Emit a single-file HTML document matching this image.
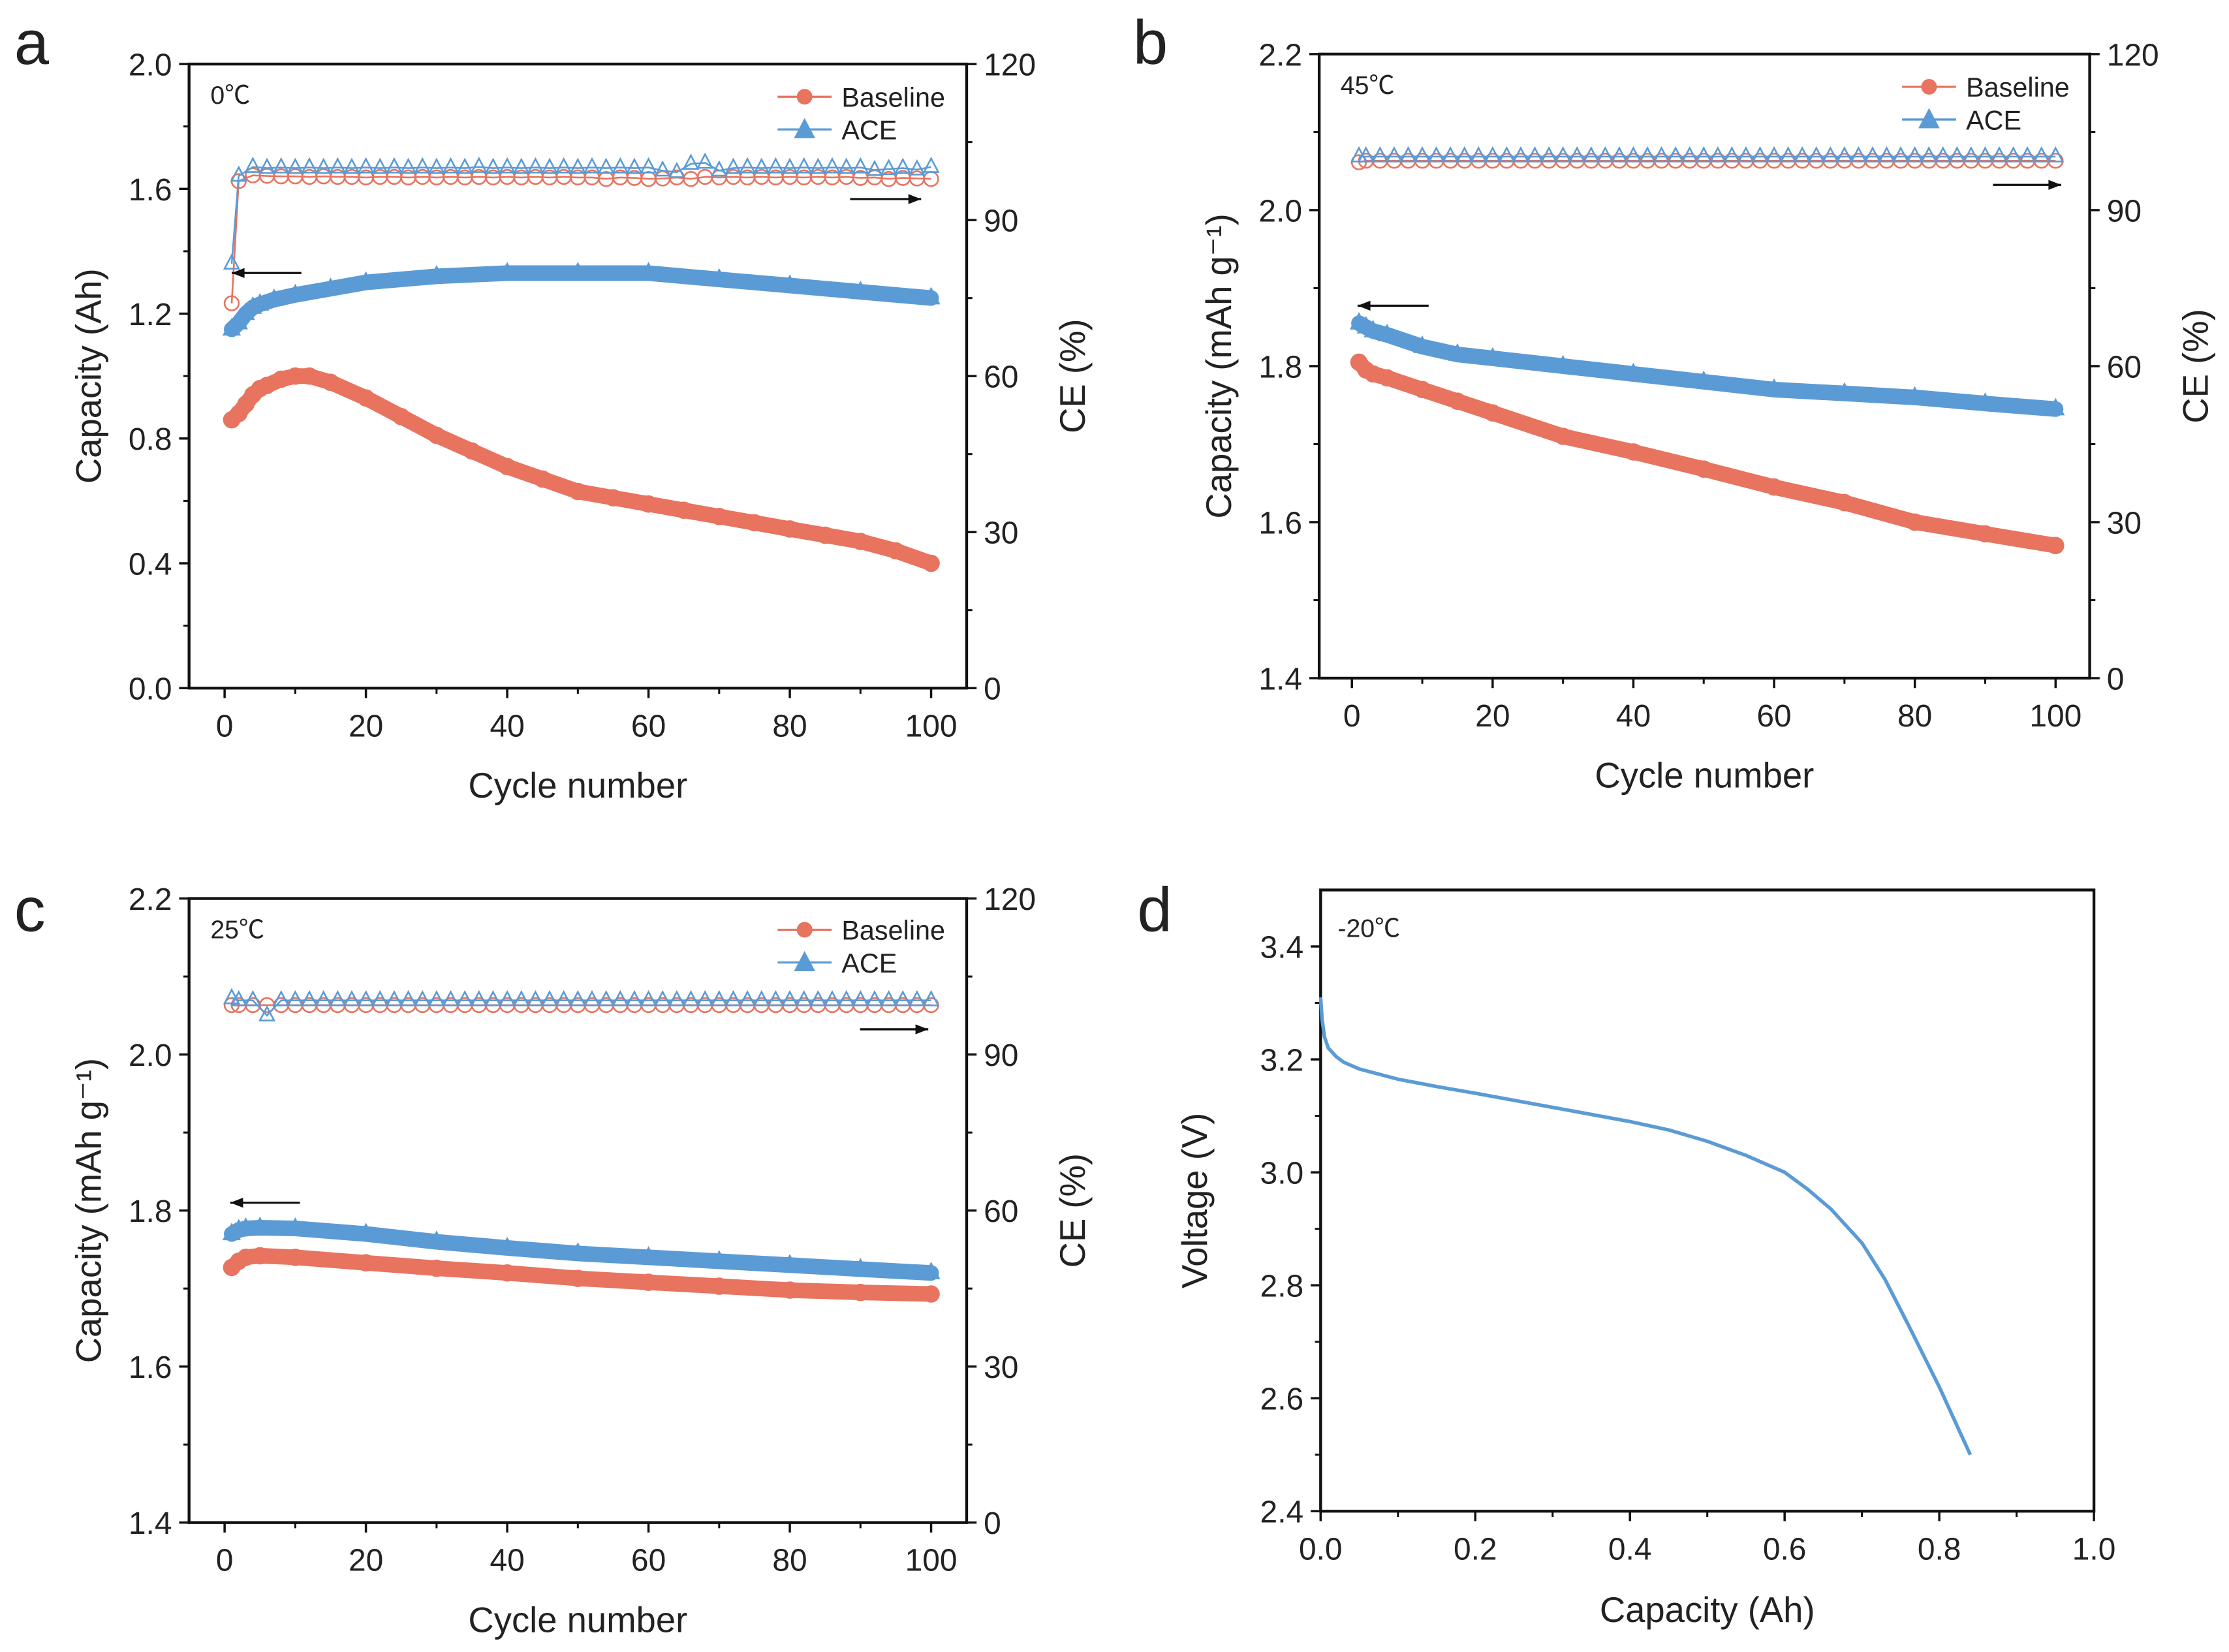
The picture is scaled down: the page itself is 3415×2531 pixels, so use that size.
<!DOCTYPE html>
<html><head><meta charset="utf-8"><style>
html,body{margin:0;padding:0;background:#fff}
svg{display:block}
text{font-family:"Liberation Sans","Noto Sans CJK SC",sans-serif;fill:#222}
</style></head><body>
<svg id="fig" width="3415" height="2531" viewBox="0 0 1568 1162" xmlns="http://www.w3.org/2000/svg"></svg>
<script>
// shared CE cycle indices (1, 2, then every 2 cycles)
const ceCycles=[1,2,4,6,8,10,12,14,16,18,20,22,24,26,28,30,32,34,36,38,40,42,44,46,48,50,52,54,56,58,60,62,64,66,68,70,72,74,76,78,80,82,84,86,88,90,92,94,96,98,100];
// ---- Panel a (0 °C) ----
const aCycB=[1,2,3,4,5,6,8,10,12,15,20,25,30,35,40,45,50,55,60,65,70,75,80,85,90,95,100];
const aCapB=[0.86,0.88,0.91,0.94,0.96,0.97,0.99,1.0,1.0,0.98,0.93,0.87,0.81,0.76,0.71,0.67,0.63,0.61,0.59,0.57,0.55,0.53,0.51,0.49,0.47,0.44,0.40];
const aCycA=[1,2,3,4,5,7,10,15,20,30,40,50,60,70,80,90,100];
const aCapA=[1.15,1.17,1.20,1.22,1.23,1.245,1.26,1.28,1.30,1.32,1.33,1.33,1.33,1.31,1.29,1.27,1.25];
const aCEB=[74,97.5,98.6,98.5,98.4,98.4,98.3,98.4,98.3,98.3,98.2,98.3,98.3,98.2,98.3,98.2,98.3,98.2,98.3,98.2,98.3,98.2,98.3,98.2,98.3,98.2,98.2,97.9,98.2,98.1,97.9,98.0,98.2,97.9,98.3,98.2,98.3,98.2,98.3,98.2,98.3,98.2,98.3,98.2,98.3,98.1,98.2,97.9,98.1,98.0,97.9];
const aCEA=[81.6,98.5,100.2,100,100.1,100,100.1,100,100.1,100,100.1,100,100.1,100,100.1,100,100.1,100,100.2,100,100.1,100,100.1,100,100.1,100,100.1,100,100.1,100,100.1,99.5,99.2,100.8,101,99.5,100,100.1,100,100.1,100,100.1,100,100.1,100,100.1,99.6,99.8,100,99.7,100.2];
// ---- Panel b (45 °C) ----
const bCycB=[1,2,3,5,10,15,20,30,40,50,60,70,80,90,100];
const bCapB=[1.805,1.795,1.79,1.785,1.77,1.755,1.74,1.71,1.69,1.668,1.645,1.625,1.60,1.585,1.57];
const bCycA=[1,2,3,5,10,15,20,30,40,50,60,70,80,90,100];
const bCapA=[1.855,1.85,1.845,1.84,1.825,1.815,1.81,1.80,1.79,1.78,1.77,1.765,1.76,1.752,1.745];
const bCEB=[99.2,99.5,99.5,99.5,99.5,99.5,99.5,99.5,99.5,99.5,99.5,99.5,99.5,99.5,99.5,99.5,99.5,99.5,99.5,99.5,99.5,99.5,99.5,99.5,99.5,99.5,99.5,99.5,99.5,99.5,99.5,99.5,99.5,99.5,99.5,99.5,99.5,99.5,99.5,99.5,99.5,99.5,99.5,99.5,99.5,99.5,99.5,99.5,99.5,99.5,99.5];
const bCEA=[100.3,100.3,100.3,100.3,100.3,100.3,100.3,100.3,100.3,100.3,100.3,100.3,100.3,100.3,100.3,100.3,100.3,100.3,100.3,100.3,100.3,100.3,100.3,100.3,100.3,100.3,100.3,100.3,100.3,100.3,100.3,100.3,100.3,100.3,100.3,100.3,100.3,100.3,100.3,100.3,100.3,100.3,100.3,100.3,100.3,100.3,100.3,100.3,100.3,100.3,100.3];
// ---- Panel c (25 °C) ----
const cCycB=[1,2,3,5,10,20,30,40,50,60,70,80,90,100];
const cCapB=[1.727,1.735,1.74,1.742,1.74,1.733,1.726,1.72,1.713,1.708,1.703,1.698,1.695,1.693];
const cCycA=[1,2,3,5,10,20,30,40,50,60,70,80,90,100];
const cCapA=[1.77,1.775,1.777,1.778,1.777,1.77,1.76,1.752,1.745,1.74,1.735,1.73,1.725,1.72];
const cCEB=[99.5,99.5,99.5,99.5,99.5,99.5,99.5,99.5,99.5,99.5,99.5,99.5,99.5,99.5,99.5,99.5,99.5,99.5,99.5,99.5,99.5,99.5,99.5,99.5,99.5,99.5,99.5,99.5,99.5,99.5,99.5,99.5,99.5,99.5,99.5,99.5,99.5,99.5,99.5,99.5,99.5,99.5,99.5,99.5,99.5,99.5,99.5,99.5,99.5,99.5,99.5];
const cCEA=[100.8,100.4,100.4,97.5,100.4,100.4,100.4,100.4,100.4,100.4,100.4,100.4,100.4,100.4,100.4,100.4,100.4,100.4,100.4,100.4,100.4,100.4,100.4,100.4,100.4,100.4,100.4,100.4,100.4,100.4,100.4,100.4,100.4,100.4,100.4,100.4,100.4,100.4,100.4,100.4,100.4,100.4,100.4,100.4,100.4,100.4,100.4,100.4,100.4,100.4,100.4];
// ---- Panel d (-20 °C) ----
const dCap=[0,0.002,0.005,0.01,0.02,0.03,0.05,0.1,0.15,0.2,0.3,0.4,0.45,0.5,0.55,0.6,0.63,0.66,0.7,0.73,0.76,0.8,0.84];
const dVolt=[3.31,3.27,3.24,3.22,3.205,3.195,3.183,3.165,3.152,3.14,3.115,3.09,3.075,3.055,3.03,3.0,2.97,2.935,2.875,2.81,2.73,2.62,2.50];

const RED='#e8735f', BLUE='#5b9bd5';
const NS='http://www.w3.org/2000/svg';
const svg=document.getElementById('fig');
function mk(tag,attrs,parent){const e=document.createElementNS(NS,tag);for(const k in attrs)e.setAttribute(k,attrs[k]);(parent||svg).appendChild(e);return e;}
function txt(s,x,y,size,anchor,parent,extra){const t=mk('text',Object.assign({x:x,y:y,'font-size':size,'text-anchor':anchor||'middle'},extra||{}),parent);t.textContent=s;return t;}

function frame(g,L,R,T,B){
  const r=mk('rect',{x:L,y:T,width:R-L,height:B-T,fill:'none',stroke:'#111','stroke-width':2},g);
  
  
}
function xAxis(g,sx,B,ticks,fmt,minor){
  const ax=mk('g',{},g);
  
  
  ticks.forEach(v=>{mk('line',{x1:sx(v),x2:sx(v),y1:B,y2:B+7,stroke:'#111','stroke-width':1.6},ax);
    const t=txt(fmt(v),sx(v),B+34,22,'middle',ax);
    
    });
  minor.forEach(v=>mk('line',{x1:sx(v),x2:sx(v),y1:B,y2:B+4,stroke:'#111','stroke-width':1.4},ax));
}
function yAxis(g,sy,X,ticks,fmt,minor,side){
  const ax=mk('g',{},g);
  
  
  ticks.forEach(v=>{mk('line',{x1:X,x2:X+side*7,y1:sy(v),y2:sy(v),stroke:'#111','stroke-width':1.6},ax);
    const t=txt(fmt(v),X+side*12,sy(v)+8,22,side>0?'start':'end',ax);
    
    });
  minor.forEach(v=>mk('line',{x1:X,x2:X+side*4,y1:sy(v),y2:sy(v),stroke:'#111','stroke-width':1.4},ax));
}
function rotTitle(g,s,x,y,name){
  const t=txt(s,x,y,25,'middle',g,{transform:`rotate(-90 ${x} ${y})`});
  
  
  return t;
}
function band(g,xs,ys,sx,sy,color,w,name){
  const p=xs.map((c,i)=>sx(c).toFixed(1)+','+sy(ys[i]).toFixed(1)).join(' ');
  const pl=mk('polyline',{points:p,fill:'none',stroke:color,'stroke-width':w,'stroke-linejoin':'round','stroke-linecap':'round'},g);
  
  
}
function marker(g,type,x,y,color,filled,size){
  let e;
  if(type==='c') e=mk('circle',{cx:x,cy:y,r:size,fill:filled?color:'none',stroke:color,'stroke-width':1.2},g);
  else e=mk('polygon',{points:`${x},${y-size*1.2} ${x-size},${y+size*0.7} ${x+size},${y+size*0.7}`,fill:filled?color:'none',stroke:color,'stroke-width':1.2},g);
  return e;
}
function series(g,xs,ys,sx,sy,color,type,filled,w,name){
  const s=mk('g',{},g);
  
  
  if(filled) band(s,xs,ys,sx,sy,color,w,name+'-band');
  else { const p=xs.map((c,i)=>sx(c).toFixed(1)+','+sy(ys[i]).toFixed(1)).join(' ');
    mk('polyline',{points:p,fill:'none',stroke:color,'stroke-width':1.2},s);}
  xs.forEach((c,i)=>marker(s,type,sx(c),sy(ys[i]),color,filled,filled?5.5:5));
}
function arrow(g,x1,x2,y,name){
  const a=mk('g',{},g);
  
  
  mk('line',{x1:x1,x2:x2,y1:y,y2:y,stroke:'#111','stroke-width':1.5},a);
  const d=x2>x1?1:-1;
  mk('polygon',{points:`${x2},${y} ${x2-d*9},${y-3.5} ${x2-d*9},${y+3.5}`,fill:'#111'},a);
}
function legend(g,x,y){
  const lg=mk('g',{},g);
  
  
  const e1=mk('g',{},lg);
  
  
  mk('line',{x1:x,x2:x+38,y1:y,y2:y,stroke:RED,'stroke-width':1.5},e1);
  mk('circle',{cx:x+19,cy:y,r:5.5,fill:RED},e1);
  txt('Baseline',x+45,y+7,19,'start',e1);
  const e2=mk('g',{},lg);
  
  
  mk('line',{x1:x,x2:x+38,y1:y+23,y2:y+23,stroke:BLUE,'stroke-width':1.5},e2);
  marker(e2,'t',x+19,y+24,BLUE,true,6.5);
  txt('ACE',x+45,y+30,19,'start',e2);
}

function cyclePanel(o){
  const g=mk('g',{});
  
  
  const sx=v=>o.x0+(o.x100-o.x0)*v/100;
  const sy=v=>o.B-(o.B-o.T)*(v-o.ymin)/(o.ymax-o.ymin);
  const sr=v=>o.B-(o.B-o.T)*v/120;
  frame(g,o.L,o.R,o.T,o.B);
  xAxis(g,sx,o.B,[0,20,40,60,80,100],v=>String(v),[10,30,50,70,90]);
  yAxis(g,sy,o.L,o.yticks,v=>v.toFixed(1),o.yminor,-1);
  yAxis(g,sr,o.R,[0,30,60,90,120],v=>String(v),[15,45,75,105],1);
  const xt=txt('Cycle number',(o.L+o.R)/2,o.B+77,25,'middle',g);
  
  
  rotTitle(g,o.ytitle,o.L-62,(o.T+o.B)/2,'y-axis-title-left');
  rotTitle(g,'CE (%)',o.R+83,(o.T+o.B)/2,'y-axis-title-right');
  const pl=txt(o.letter,o.lx,o.ly,44,'start',g);
  
  
  const tl=txt(o.temp,o.L+15,o.T+28,18,'start',g);
  
  
  series(g,ceCycles,o.ceB,sx,sr,RED,'c',false,0,'ce-baseline');
  series(g,ceCycles,o.ceA,sx,sr,BLUE,'t',false,0,'ce-ace');
  series(g,o.cycA,o.capA,sx,sy,BLUE,'t',true,11,'capacity-ace');
  series(g,o.cycB,o.capB,sx,sy,RED,'c',true,11,'capacity-baseline');
  legend(g,o.legX,o.legY);
  arrow(g,o.la[0],o.la[1],o.la[2],'arrow-left-axis');
  arrow(g,o.ra[0],o.ra[1],o.ra[2],'arrow-right-axis');
}

cyclePanel({name:'panel-a',letter:'a',lx:10,ly:45,temp:'0℃',L:133,R:680,T:45,B:484,x0:158,x100:655,ymin:0,ymax:2,
  yticks:[0,0.4,0.8,1.2,1.6,2.0],yminor:[0.2,0.6,1.0,1.4,1.8],ytitle:'Capacity (Ah)',
  cycB:aCycB,capB:aCapB,cycA:aCycA,capA:aCapA,ceB:aCEB,ceA:aCEA,legX:547,legY:68,la:[212,163,192],ra:[598,648,140]});
cyclePanel({name:'panel-b',letter:'b',lx:797,ly:45,temp:'45℃',L:928,R:1470,T:38,B:477,x0:951,x100:1446,ymin:1.4,ymax:2.2,
  yticks:[1.4,1.6,1.8,2.0,2.2],yminor:[1.5,1.7,1.9,2.1],ytitle:'Capacity (mAh g⁻¹)',
  cycB:bCycB,capB:bCapB,cycA:bCycA,capA:bCapA,ceB:bCEB,ceA:bCEA,legX:1338,legY:61,la:[1005,955,215],ra:[1402,1450,130]});
cyclePanel({name:'panel-c',letter:'c',lx:10,ly:655,temp:'25℃',L:133,R:680,T:632,B:1071,x0:158,x100:655,ymin:1.4,ymax:2.2,
  yticks:[1.4,1.6,1.8,2.0,2.2],yminor:[1.5,1.7,1.9,2.1],ytitle:'Capacity (mAh g⁻¹)',
  cycB:cCycB,capB:cCapB,cycA:cCycA,capA:cCapA,ceB:cCEB,ceA:cCEA,legX:547,legY:654,la:[211,162,846],ra:[605,653,724]});

// Panel d
(function(){
  const g=mk('g',{});
  
  
  const L=929,R=1473,T=626,B=1063;
  const sx=v=>L+(R-L)*v;
  const sy=v=>B-(B-T)*(v-2.4)/1.1;
  frame(g,L,R,T,B);
  xAxis(g,sx,B,[0,0.2,0.4,0.6,0.8,1.0],v=>v.toFixed(1),[0.1,0.3,0.5,0.7,0.9]);
  yAxis(g,sy,L,[2.4,2.6,2.8,3.0,3.2,3.4],v=>v.toFixed(1),[2.5,2.7,2.9,3.1,3.3],-1);
  const xt=txt('Capacity (Ah)',(L+R)/2,B+78,25,'middle',g);
  
  
  rotTitle(g,'Voltage (V)',L-80,(T+B)/2,'y-axis-title');
  const pl=txt('d',800,655,44,'start',g);
  
  
  const tl=txt('-20℃',L+12,T+33,18,'start',g);
  
  
  const p=dCap.map((c,i)=>sx(c).toFixed(1)+','+sy(dVolt[i]).toFixed(1)).join(' ');
  const line=mk('polyline',{points:p,fill:'none',stroke:BLUE,'stroke-width':2.5,'stroke-linejoin':'round'},g);
  
  
})();
</script>
</body></html>
